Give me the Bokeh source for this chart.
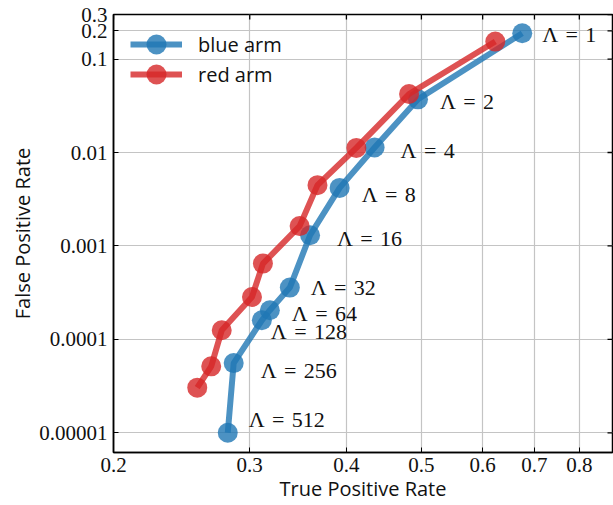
import math
from bokeh.plotting import figure
from bokeh.models import (Range1d, FixedTicker, CustomJSTickFormatter,
                          Legend, LegendItem, ColumnDataSource)
from bokeh.core.properties import value
from bokeh.embed import file_html
from bokeh.resources import INLINE

# ---- data ----
lambdas = [1, 2, 4, 8, 16, 32, 64, 128, 256, 512]
blue_tpr = [0.675, 0.495, 0.435, 0.392, 0.359, 0.338, 0.3185, 0.311, 0.286, 0.281]
blue_fpr = [0.189, 0.0371, 0.0113, 0.00418, 0.0013, 0.000358, 0.000205, 0.00016, 5.57e-5, 1.0e-5]
red_tpr = [0.623, 0.482, 0.412, 0.367, 0.348, 0.312, 0.302, 0.276, 0.2675, 0.2566]
red_fpr = [0.154, 0.0423, 0.0112, 0.00447, 0.00163, 0.000647, 0.000284, 0.000125, 5.14e-5, 3.04e-5]

xticks = [0.2, 0.3, 0.4, 0.5, 0.6, 0.7, 0.8]
xtick_labels = ["0.2", "0.3", "0.4", "0.5", "0.6", "0.7", "0.8"]
yticks = [1e-5, 1e-4, 1e-3, 1e-2, 0.1, 0.2, 0.3]
ytick_labels = ["0.00001", "0.0001", "0.001", "0.01", "0.1", "0.2", "0.3"]

x_lo, x_hi = 0.2, 0.883
y_lo, y_hi = 6.15e-6, 0.3

# annotation offsets (screen px) for the Λ labels
label_dx = [20, 22, 26, 22, 27, 21, 22, 9, 27, 21]
label_dy = [1, 2, 3, 7, 3, 0, 3, 11, 7, -13]

BLUE = "#1f77b4"
RED = "#d62728"
SERIF = "Liberation Serif"
SANS = "Open Sans"

p = figure(width=613, height=505, x_axis_type="log", y_axis_type="log",
           x_range=Range1d(x_lo, x_hi), y_range=Range1d(y_lo, y_hi),
           output_backend="svg", toolbar_location=None,
           min_border_left=113, min_border_right=1, min_border_top=14,
           min_border_bottom=53)

p.outline_line_color = "black"
p.outline_line_width = 1.5
p.background_fill_color = "white"
p.border_fill_color = "white"


def fmt(ticks, labels):
    return CustomJSTickFormatter(args=dict(t=ticks, l=labels), code="""
        for (let i = 0; i < t.length; i++) {
            if (Math.abs(tick - t[i]) <= 1e-6 * t[i]) { return l[i]; }
        }
        return "";
    """)


for ax, ticks, f in ((p.xaxis[0], xticks, fmt(xticks, xtick_labels)),
                     (p.yaxis[0], yticks, fmt(yticks, ytick_labels))):
    ax.ticker = FixedTicker(ticks=ticks, minor_ticks=[])
    ax.formatter = f
    ax.major_tick_in = 5
    ax.major_tick_out = 0
    ax.minor_tick_in = 0
    ax.minor_tick_out = 0
    ax.axis_line_color = "black"
    ax.axis_line_width = 1.5
    ax.major_tick_line_color = "black"
    ax.major_label_text_font = SERIF
    ax.major_label_text_font_size = "21px"
    ax.major_label_text_color = "#111111"
    ax.axis_label_text_font = SANS
    ax.axis_label_text_font_size = "20px"
    ax.axis_label_text_font_style = "normal"
    ax.axis_label_text_color = "#111111"

p.xaxis[0].major_label_standoff = 5
p.yaxis[0].major_label_standoff = 6
p.xaxis[0].axis_label = "True Positive Rate"
p.yaxis[0].axis_label = "False Positive Rate"
p.xaxis[0].axis_label_standoff = 0
p.yaxis[0].axis_label_standoff = 0

p.xgrid.ticker = FixedTicker(ticks=xticks, minor_ticks=[])
p.ygrid.ticker = FixedTicker(ticks=yticks, minor_ticks=[])
p.grid.grid_line_color = "#c4c4c4"
p.grid.grid_line_width = 1.2

# inward tick marks on the top and right edges (half of each dash is clipped)
p.scatter(x=xticks, y=[y_hi] * len(xticks), marker="dash", size=10,
          angle=math.pi / 2, line_color="black", line_width=1.3)
p.scatter(x=[x_hi] * len(yticks), y=yticks, marker="dash", size=10,
          line_color="black", line_width=1.3)

blue_src = ColumnDataSource(dict(
    x=blue_tpr, y=blue_fpr,
    lab=["\u039b\u2004=\u2004%d" % l for l in lambdas],
    dx=label_dx, dy=label_dy))
red_src = ColumnDataSource(dict(x=red_tpr, y=red_fpr))

bl = p.line("x", "y", source=blue_src, line_color=BLUE, line_width=6, line_alpha=0.8)
bs = p.scatter("x", "y", source=blue_src, size=20, fill_color=BLUE, line_color=None,
               fill_alpha=0.8)
rl = p.line("x", "y", source=red_src, line_color=RED, line_width=6, line_alpha=0.8)
rs = p.scatter("x", "y", source=red_src, size=20, fill_color=RED, line_color=None,
               fill_alpha=0.8)

p.text("x", "y", text="lab", source=blue_src, x_offset="dx", y_offset="dy",
       text_font=value(SERIF), text_font_size="22px", text_color="#111111",
       text_align="left", text_baseline="middle")

# one legend per entry: 50 px rows give a 20 px legend marker (0.4 * 50)
legend_entries = [("blue arm", [bl, bs], 383), ("red arm", [rl, rs], 353)]
for lab, rends, vy in legend_entries:
    lg = Legend(items=[LegendItem(label=lab, renderers=rends)],
                location=(17, vy), margin=0, padding=0, spacing=0,
                glyph_width=52, glyph_height=50, label_height=50,
                label_standoff=16, label_text_font=SANS,
                label_text_font_size="20px", label_text_color="#111111",
                background_fill_alpha=0, border_line_alpha=0)
    p.add_layout(lg)

open("out.html", "w").write(file_html(p, INLINE))
